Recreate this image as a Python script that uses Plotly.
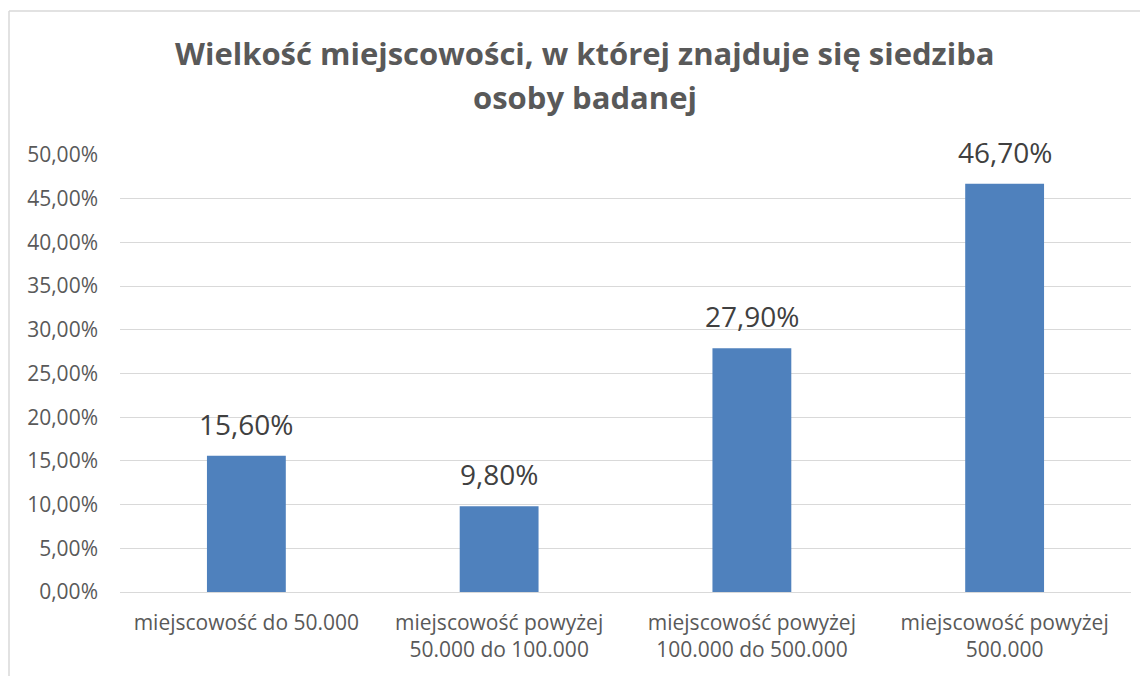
import plotly.graph_objects as go

categories = [
    "miejscowość do 50.000",
    "miejscowość powyżej<br>50.000 do 100.000",
    "miejscowość powyżej<br>100.000 do 500.000",
    "miejscowość powyżej<br>500.000",
]
values = [0.156, 0.098, 0.279, 0.467]
title_lines = ["Wielkość miejscowości, w której znajduje się siedziba", "osoby badanej"]

bar_color = "#4F81BD"
font_family = "Open Sans, Noto Sans, sans-serif"

fig = go.Figure()
fig.add_trace(go.Bar(
    x=categories,
    y=values,
    marker=dict(color=bar_color, line=dict(width=0)),
    width=0.312,
    hoverinfo="skip",
))

for c, v in zip(categories, values):
    fig.add_annotation(
        x=c, y=v, xref="x", yref="y",
        text=f"{v*100:.2f}%".replace(".", ","),
        showarrow=False, yanchor="bottom", yshift=11,
        font=dict(family=font_family, size=28, color="#404040"),
    )

# page body has an 8px offset, so figure coordinates are shifted by -8
W, H = 1148, 676
ml, mr, mt, mb = 112, 25, 147, 92
pw, ph = W - ml - mr, H - mt - mb
bx = (1 - ml) / pw
by = 1 + (mt - 3) / ph

fig.add_shape(type="line", xref="paper", yref="paper",
              x0=bx, x1=bx, y0=-(mb + 5) / ph, y1=by,
              line=dict(color="#D9D9D9", width=1.5))
fig.add_shape(type="line", xref="paper", yref="paper",
              x0=bx, x1=1 + (mr + 5) / pw, y0=by, y1=by,
              line=dict(color="#D9D9D9", width=1.5))

# title lines (centre x ~577px, centres y ~45 and ~89 px from the top)
for line, fy in zip(title_lines, [45, 89]):
    fig.add_annotation(
        xref="paper", yref="paper",
        x=(577 - ml) / pw, y=1 + (mt - fy) / ph,
        xanchor="center", yanchor="middle",
        text=f"<b>{line}</b>", showarrow=False,
        font=dict(family=font_family, size=31, color="#595959"),
    )

fig.update_layout(
    width=W, height=H,
    margin=dict(l=ml, r=mr, t=mt, b=mb),
    paper_bgcolor="white", plot_bgcolor="white",
    separators=", ",
    showlegend=False,
    font=dict(family=font_family, color="#595959"),
)
fig.update_yaxes(
    range=[0, 0.5], dtick=0.05, tickformat=".2%",
    showgrid=True, gridcolor="#D9D9D9", gridwidth=1,
    zeroline=True, zerolinecolor="#D9D9D9", zerolinewidth=1,
    showline=False, ticks="", ticklabelstandoff=21,
    tickfont=dict(family=font_family, size=21, color="#595959"),
)
fig.update_xaxes(
    showgrid=False, showline=False, ticks="", ticklabelstandoff=16,
    tickfont=dict(family=font_family, size=21, color="#595959"),
)

fig.write_html("out.html")
